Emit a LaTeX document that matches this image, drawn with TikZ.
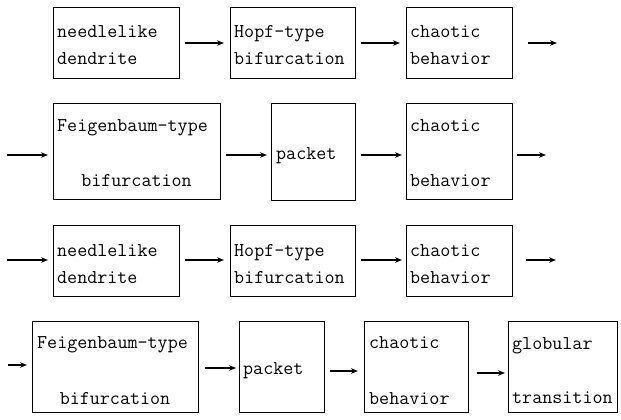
\documentclass[tikz,border=0pt]{standalone}
\usetikzlibrary{arrows.meta}
\begin{document}
\begin{tikzpicture}[x=1pt,y=-1pt,
  stagebox/.style={draw, line width=1.2pt, anchor=north west, inner sep=0pt},
  txt/.style={anchor=west, inner sep=0pt, text height=12pt, text depth=3pt,
    font=\ttfamily\fontsize{19.5}{22}\selectfont},
  ctxt/.style={txt, anchor=center},
  arr/.style={-{Stealth[length=7pt,width=5.5pt]}, line width=1.1pt}]
\useasboundingbox (0,0) rectangle (621,420);

% ---- row 1 ----
\node[stagebox, minimum width=126pt, minimum height=71pt] (a1) at (53,7) {};
\node[stagebox, minimum width=125pt, minimum height=71pt] (a2) at (230,7) {};
\node[stagebox, minimum width=106pt, minimum height=71pt] (a3) at (406,7) {};
\node[txt] (a1t1) at (57,33) {needlelike};
\node[txt] (a1t2) at (57,60) {dendrite};
\node[txt] (a2t1) at (234,33) {Hopf-type};
\node[txt] (a2t2) at (234,60) {bifurcation};
\node[txt] (a3t1) at (410,33) {chaotic};
\node[txt] (a3t2) at (410,60) {behavior};
\coordinate (ra) at (0,43);
\coordinate (ea) at (557,43);
\draw[arr, shorten <=5pt, shorten >=6pt] (a1.east |- ra) -- (a2.west |- ra);
\draw[arr, shorten <=5pt, shorten >=6pt] (a2.east |- ra) -- (a3.west |- ra);
\draw[arr, shorten <=15pt] (a3.east |- ra) -- (ea);

% ---- row 2 ----
\node[stagebox, minimum width=167pt, minimum height=96pt] (b1) at (53,103) {};
\node[stagebox, minimum width=84pt, minimum height=97pt] (b2) at (271,103) {};
\node[stagebox, minimum width=106pt, minimum height=96pt] (b3) at (406,103) {};
\node[txt] (b1t1) at (57,127) {Feigenbaum-type};
\node[ctxt] (b1t2) at (136.5,182) {bifurcation};
\node[txt] (b2t1) at (276,155) {packet};
\node[txt] (b3t1) at (410,127) {chaotic};
\node[txt] (b3t2) at (410,182) {behavior};
\coordinate (sb) at (7,155);
\coordinate (eb) at (546,155);
\draw[arr, shorten >=5pt] (sb) -- (b1.west |- sb);
\draw[arr, shorten <=5pt, shorten >=4pt] (b1.east |- sb) -- (b2.west |- sb);
\draw[arr, shorten <=5pt, shorten >=4pt] (b2.east |- sb) -- (b3.west |- sb);
\draw[arr, shorten <=4pt] (b3.east |- eb) -- (eb);

% ---- row 3 ----
\node[stagebox, minimum width=126pt, minimum height=71pt] (c1) at (53,225) {};
\node[stagebox, minimum width=125pt, minimum height=71pt] (c2) at (230,225) {};
\node[stagebox, minimum width=106pt, minimum height=71pt] (c3) at (406,225) {};
\node[txt] (c1t1) at (57,252) {needlelike};
\node[txt] (c1t2) at (57,279) {dendrite};
\node[txt] (c2t1) at (234,252) {Hopf-type};
\node[txt] (c2t2) at (234,279) {bifurcation};
\node[txt] (c3t1) at (410,252) {chaotic};
\node[txt] (c3t2) at (410,279) {behavior};
\coordinate (sc) at (7,260);
\coordinate (ec) at (556,260);
\draw[arr, shorten >=5pt] (sc) -- (c1.west |- sc);
\draw[arr, shorten <=5pt, shorten >=6pt] (c1.east |- sc) -- (c2.west |- sc);
\draw[arr, shorten <=5pt, shorten >=4pt] (c2.east |- sc) -- (c3.west |- sc);
\draw[arr, shorten <=13pt] (c3.east |- ec) -- (ec);

% ---- row 4 ----
\node[stagebox, minimum width=166pt, minimum height=91pt] (d1) at (32,321) {};
\node[stagebox, minimum width=85pt, minimum height=91pt] (d2) at (239,321) {};
\node[stagebox, minimum width=104pt, minimum height=91pt] (d3) at (364,321) {};
\node[stagebox, minimum width=109pt, minimum height=91pt] (d4) at (508,321) {};
\node[txt] (d1t1) at (37,344) {Feigenbaum-type};
\node[ctxt] (d1t2) at (115,400) {bifurcation};
\node[txt] (d2t1) at (243,370) {packet};
\node[txt] (d3t1) at (369,344) {chaotic};
\node[txt] (d3t2) at (369,400) {behavior};
\node[txt] (d4t1) at (512,345) {globular};
\node[txt] (d4t2) at (512,399) {transition};
\coordinate (sd) at (8,365);
\coordinate (rd2) at (0,368);
\coordinate (rd3) at (0,371);
\coordinate (rd4) at (0,373);
\draw[arr, shorten >=5pt] (sd) -- (d1.west |- sd);
\draw[arr, shorten <=6pt, shorten >=3pt] (d1.east |- rd2) -- (d2.west |- rd2);
\draw[arr, shorten <=5pt, shorten >=6pt] (d2.east |- rd3) -- (d3.west |- rd3);
\draw[arr, shorten <=8pt, shorten >=3pt] (d3.east |- rd4) -- (d4.west |- rd4);
\end{tikzpicture}
\end{document}
